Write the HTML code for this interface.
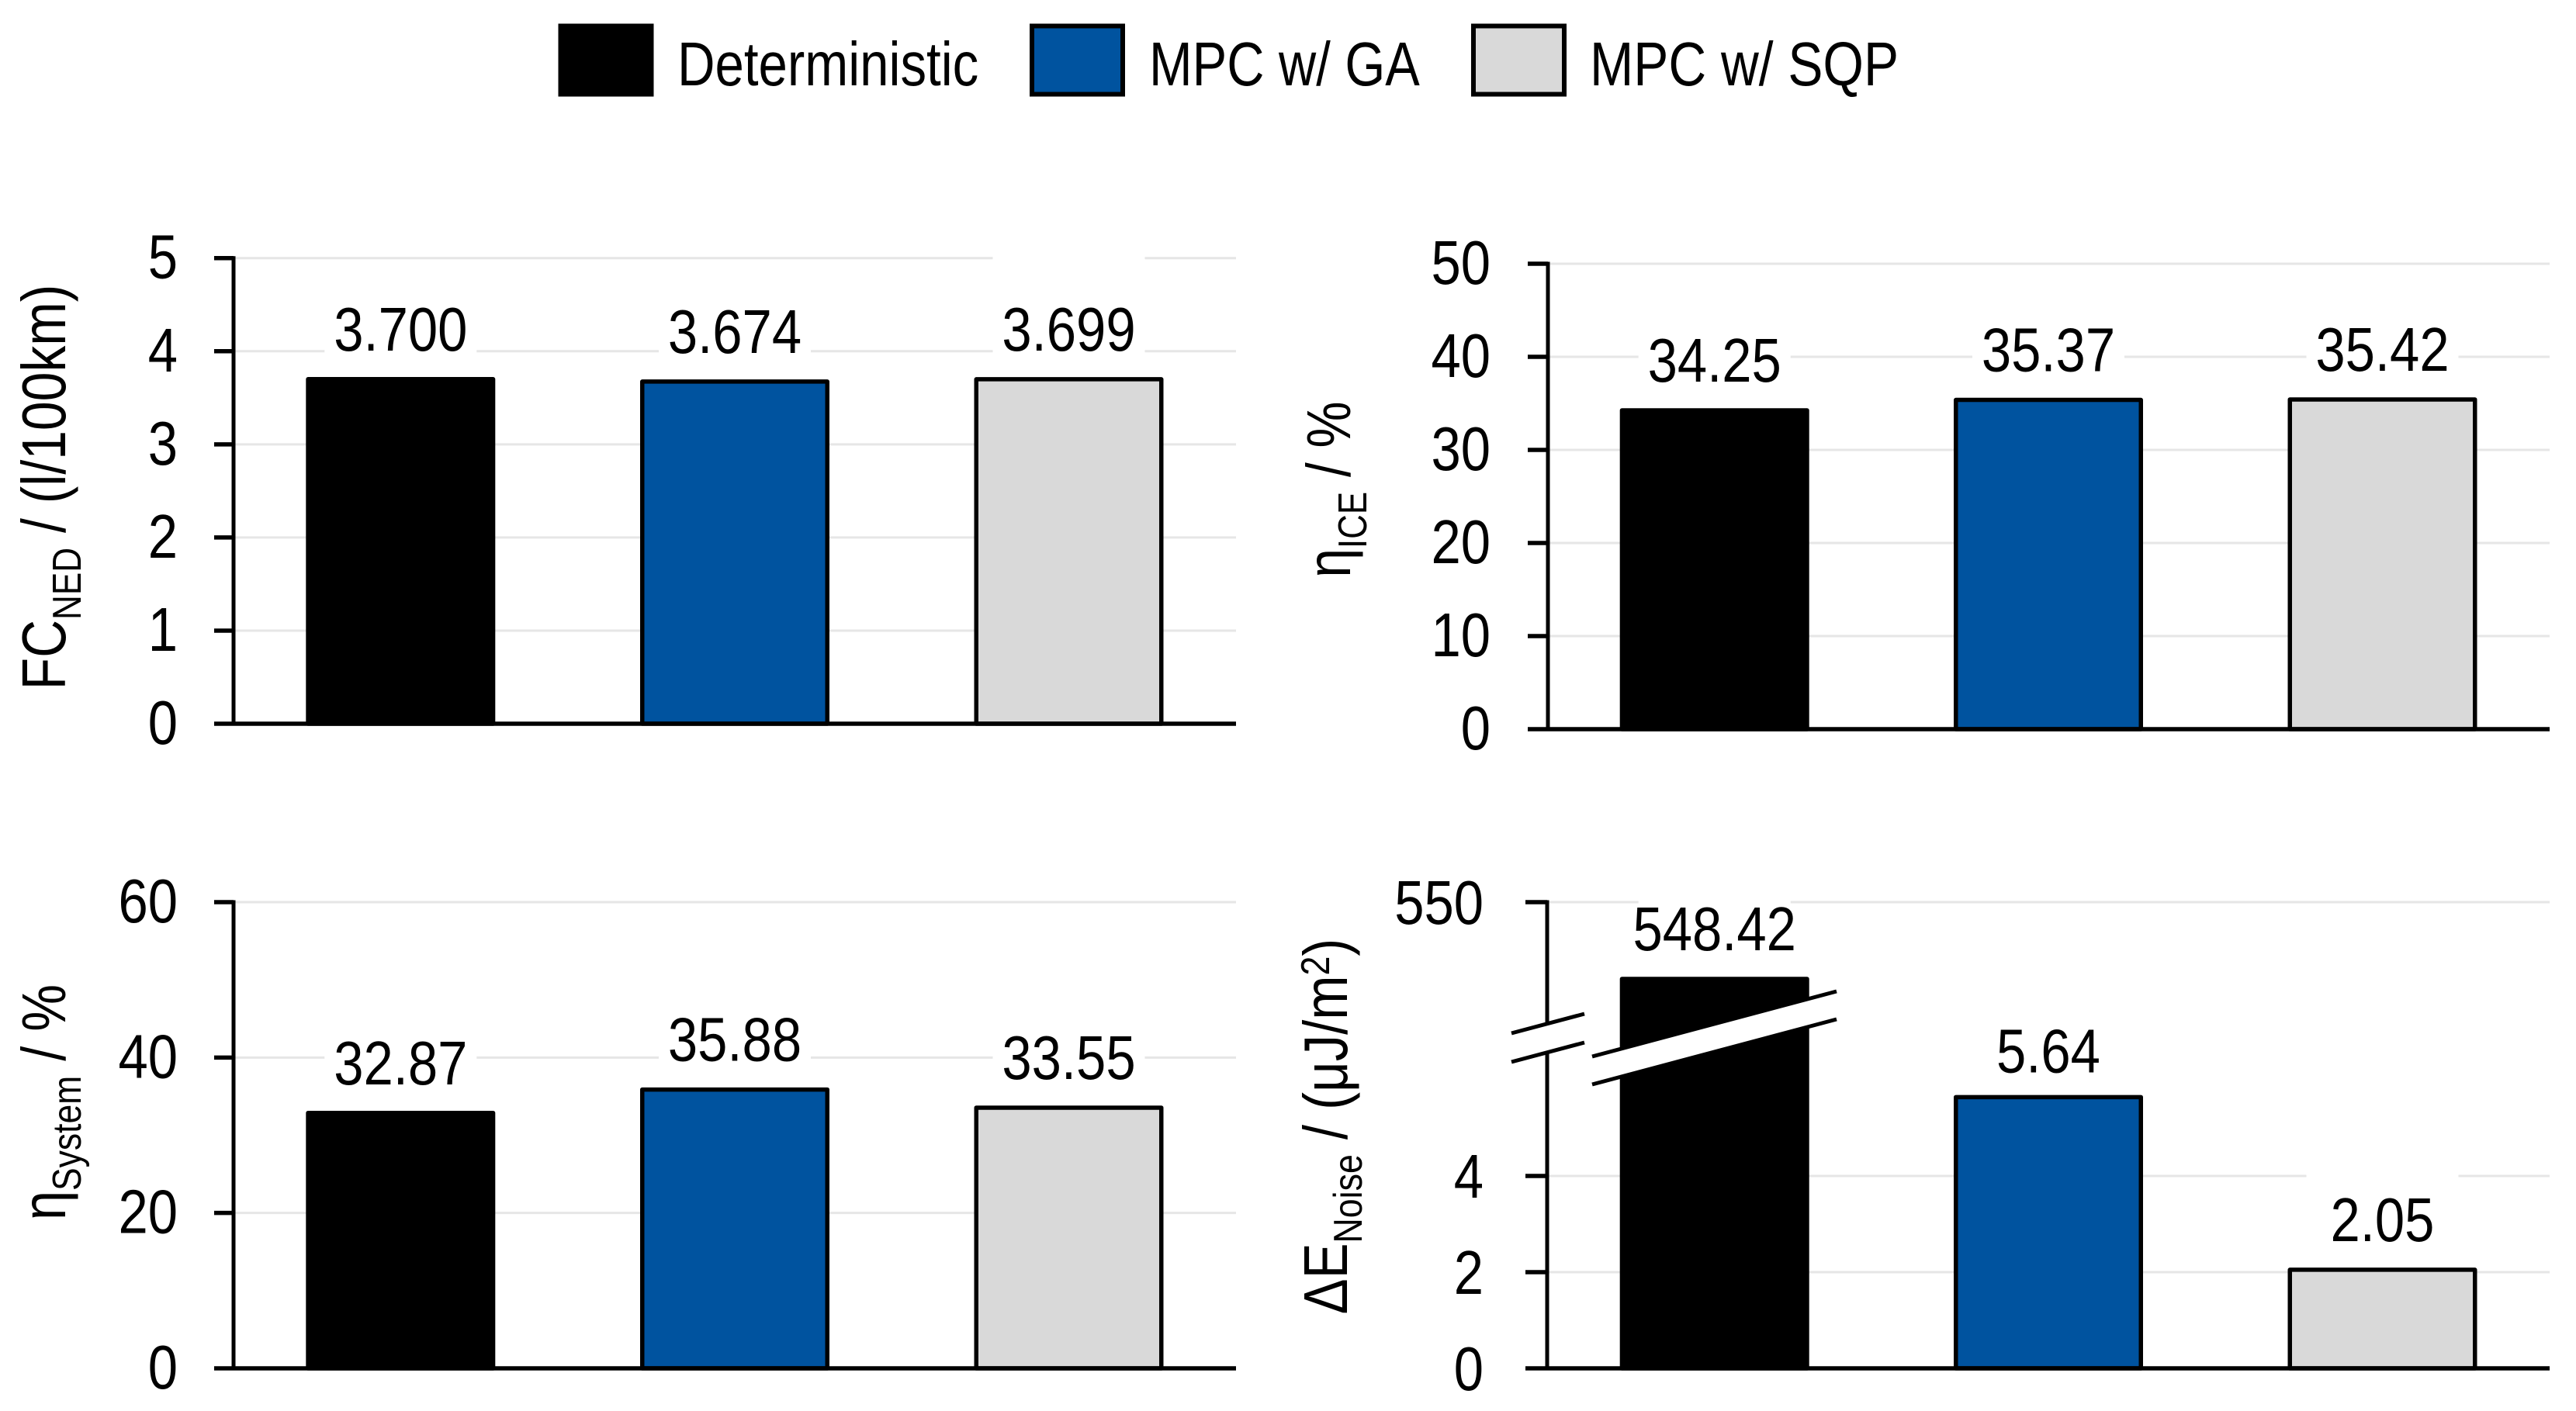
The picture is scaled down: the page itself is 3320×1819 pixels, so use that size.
<!DOCTYPE html>
<html lang="en">
<head>
<meta charset="utf-8">
<title>Controller comparison bar charts</title>
<style>
  html, body { margin: 0; padding: 0; background: #ffffff; }
  svg { display: block; }
  text { font-family: "Liberation Sans", sans-serif; fill: #000000; white-space: pre; }
</style>
</head>
<body>
<svg id="chart" xmlns="http://www.w3.org/2000/svg" width="3320" height="1819" viewBox="0 0 3320 1819">
  <rect x="0" y="0" width="3320" height="1819" fill="#ffffff"/>
  <g>
    <g>
      <rect x="722.5" y="33.5" width="117" height="88" fill="#000000" stroke="#000000" stroke-width="6"/>
      <text transform="translate(873,110) scale(0.84,1)" font-size="80">Deterministic</text>
    </g>
    <g>
      <rect x="1330" y="33.5" width="117" height="88" fill="#00539f" stroke="#000000" stroke-width="6"/>
      <text transform="translate(1481,110) scale(0.835,1)" font-size="80">MPC w/ GA</text>
    </g>
    <g>
      <rect x="1899" y="33.5" width="117" height="88" fill="#d9d9d9" stroke="#000000" stroke-width="6"/>
      <text transform="translate(2049,110) scale(0.845,1)" font-size="80">MPC w/ SQP</text>
    </g>
  </g>
</svg>
<script>
// ---- chart data ----
const categories = ["Deterministic", "MPC w/ GA", "MPC w/ SQP"];
const fcValues = [3.700, 3.674, 3.699];
const iceValues = [34.25, 35.37, 35.42];
const systemValues = [32.87, 35.88, 33.55];
const noiseValues = [548.42, 5.64, 2.05];
const fcTicks = [0, 1, 2, 3, 4, 5];
const iceTicks = [0, 10, 20, 30, 40, 50];
const systemTicks = [0, 20, 40, 60];
const noiseTicks = [0, 2, 4, 550];

const seriesColors = ["#000000", "#00539f", "#d9d9d9"];
const svg = document.getElementById("chart");
const NS = "http://www.w3.org/2000/svg";

function mark(parent, tag, name, attrs) {
  const node = document.createElementNS(NS, tag);
  
  
  for (const k in attrs) node.setAttribute(k, attrs[k]);
  parent.appendChild(node);
  return node;
}

function linearAxis(zero, top, max) {
  return function (v) { return zero - v * (zero - top) / max; };
}

// Broken axis: lower segment is linear from 0; values above the break live on the upper segment.
function brokenAxis(zero, unit, top, topValue) {
  return function (v) {
    if (v < 100) return zero - v * unit;
    return Math.min(top + (topValue - v) * 62.66, 1300);
  };
}

const panels = [
  { id: "fc", values: fcValues, ticks: fcTicks, decimals: 3, axisX: 301, tickX: 276, right: 1593,
    centers: [516.3, 947, 1377.5], zero: 933, y: linearAxis(933, 332.7, 5), tickDy: 26, tickRight: 229,
    titleX: 84, titleY: 628, title: [["FC", 0], ["NED", 20], [" / (l/100km)", 0]], gaps: [37, 37, 37], titleScale: 0.848 },
  { id: "ice", values: iceValues, ticks: iceTicks, decimals: 2, axisX: 1995, tickX: 1969, right: 3286,
    centers: [2209.7, 2640, 3070.5], zero: 940, y: linearAxis(940, 340, 50), tickDy: 26, tickRight: 1921,
    titleX: 1740, titleY: 631, title: [["η", 0], ["ICE", 21], [" / %", 0]], gaps: [37, 37, 37], titleScale: 0.845 },
  { id: "system", values: systemValues, ticks: systemTicks, decimals: 2, axisX: 301, tickX: 276, right: 1593,
    centers: [516.3, 947, 1377.5], zero: 1764, y: linearAxis(1764, 1163, 60), tickDy: 26, tickRight: 229,
    titleX: 84, titleY: 1421, title: [["η", 0], ["System", 20], [" / %", 0]], gaps: [37, 37, 37], titleScale: 0.855 },
  { id: "noise", values: noiseValues, ticks: noiseTicks, decimals: 2, axisX: 1994, tickX: 1966, right: 3286,
    centers: [2209.7, 2640, 3070.5], zero: 1764, y: brokenAxis(1764, 62, 1163, 550), tickDy: 28, tickRight: 1912,
    titleX: 1736, titleY: 1452, title: [["ΔE", 0], ["Noise", 19], [" / (μJ/m", 0], ["2", -23], [")", 0]], gaps: [37, 32, 37], titleScale: 0.86 }
];

const TEXT_SCALE = 0.86;
const BAR_W = 238.5;
const STROKE = 5.5;

panels.forEach(function (p) {
  const g = mark(svg, "g", "panel-" + p.id, {});

  // gridlines
  p.ticks.forEach(function (t) {
    if (t === 0) return;
    const y = p.y(t);
    mark(g, "line", "gridline-" + p.id + "-" + t, {
      x1: p.axisX, x2: p.right, y1: y, y2: y, stroke: "#e6e6e6", "stroke-width": 3 });
  });

  // white label boxes that interrupt gridlines
  p.values.forEach(function (v, i) {
    const base = p.y(v) - p.gaps[i];
    const extra = i === 2 ? 125 : 65;
    mark(g, "rect", "label-mask-" + p.id + "-" + i, {
      x: p.centers[i] - 98, y: base - extra, width: 196, height: extra + 10, fill: "#ffffff" });
  });

  // bars
  p.values.forEach(function (v, i) {
    const y = p.y(v);
    mark(g, "rect", "bar-" + p.id + "-" + categories[i].toLowerCase().replace(/[^a-z]+/g, "-"), {
      x: p.centers[i] - BAR_W / 2, y: y, width: BAR_W, height: p.zero - y,
      fill: seriesColors[i], stroke: "#000000", "stroke-width": STROKE, "stroke-linejoin": "round" });
  });

  // axes and tick marks
  mark(g, "line", "y-axis-" + p.id, {
    x1: p.axisX, x2: p.axisX, y1: p.y(p.ticks[p.ticks.length - 1]) - 2.5, y2: p.zero + 2.5,
    stroke: "#000000", "stroke-width": 5 });
  mark(g, "line", "x-axis-" + p.id, {
    x1: p.axisX, x2: p.right, y1: p.zero, y2: p.zero, stroke: "#000000", "stroke-width": 5.5 });
  p.ticks.forEach(function (t) {
    const y = p.y(t);
    mark(g, "line", "y-tick-" + p.id + "-" + t, {
      x1: p.tickX, x2: p.axisX, y1: y, y2: y, stroke: "#000000", "stroke-width": 5.5 });
    const label = mark(g, "text", "y-tick-label-" + p.id + "-" + t, {
      transform: "translate(" + p.tickRight + "," + (y + p.tickDy) + ") scale(" + TEXT_SCALE + ",1)",
      "text-anchor": "end", "font-size": 80 });
    label.textContent = String(t);
  });

  // value labels
  p.values.forEach(function (v, i) {
    const t = mark(g, "text", "value-label-" + p.id + "-" + i, {
      transform: "translate(" + p.centers[i] + "," + (p.y(v) - p.gaps[i]) + ") scale(" + TEXT_SCALE + ",1)",
      "text-anchor": "middle", "font-size": 80 });
    t.textContent = v.toFixed(p.decimals);
  });

  // axis title
  const title = mark(g, "text", "y-axis-title-" + p.id, {
    transform: "translate(" + p.titleX + "," + p.titleY + ") rotate(-90) scale(" + p.titleScale + ",1)",
    "text-anchor": "middle", "font-size": 80 });
  let current = 0;
  p.title.forEach(function (part, idx) {
    const span = document.createElementNS(NS, "tspan");
    
    
    span.setAttribute("font-size", part[1] !== 0 ? 52 : 80);
    span.setAttribute("dy", part[1] - current);
    current = part[1];
    span.textContent = part[0];
    title.appendChild(span);
  });
});

// axis-break marks on the noise panel
const breakGroup = mark(svg, "g", "axis-break", {});
mark(breakGroup, "polygon", "axis-break-gap", {
  points: "1948,1332 2042,1307 2042,1344 1948,1369", fill: "#ffffff" });
mark(breakGroup, "polygon", "bar-break-gap", {
  points: "2052,1362 2367,1278 2367,1314 2052,1398", fill: "#ffffff" });
mark(breakGroup, "line", "axis-break-line-upper", {
  x1: 1948, y1: 1332, x2: 2042, y2: 1307, stroke: "#000000", "stroke-width": 5 });
mark(breakGroup, "line", "axis-break-line-lower", {
  x1: 1948, y1: 1369, x2: 2042, y2: 1344, stroke: "#000000", "stroke-width": 5 });
mark(breakGroup, "line", "bar-break-line-upper", {
  x1: 2052, y1: 1362, x2: 2367, y2: 1278, stroke: "#000000", "stroke-width": 5 });
mark(breakGroup, "line", "bar-break-line-lower", {
  x1: 2052, y1: 1398, x2: 2367, y2: 1314, stroke: "#000000", "stroke-width": 5 });
</script>
</body>
</html>
